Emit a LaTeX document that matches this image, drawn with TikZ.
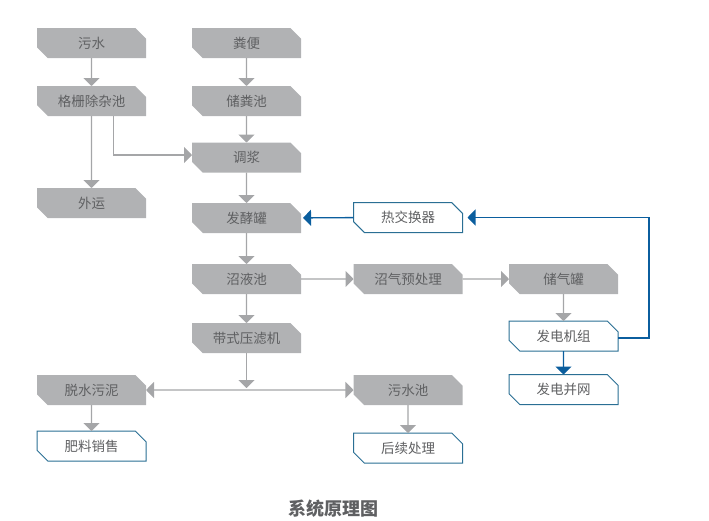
\documentclass[tikz,border=0pt]{standalone}
\usepackage{fontspec}
\setmainfont{Noto Sans CJK SC}
\usetikzlibrary{arrows.meta,shapes.misc}
\definecolor{boxgray}{HTML}{B1B2B4}
\definecolor{linegray}{HTML}{A5A6A8}
\definecolor{textgray}{HTML}{5F6062}
\definecolor{flowblue}{HTML}{0B5E9E}
\definecolor{edgeblue}{HTML}{2A6F94}
\tikzset{
    unit/.style={chamfered rectangle,chamfered rectangle corners={north east,south west},
        chamfered rectangle xsep=7pt,chamfered rectangle ysep=4.5pt,
        minimum width=109pt,minimum height=30pt,inner sep=0pt,outer sep=0pt,
        text=textgray,font=\fontsize{13.5}{16}\selectfont},
    grayunit/.style={unit,fill=boxgray},
    whiteunit/.style={unit,draw=edgeblue,fill=white,line width=1pt},
    grayflow/.style={draw=linegray,line width=1.4pt,-{Triangle[width=16pt,length=8pt]}},
    blueflow/.style={draw=flowblue,line width=1.4pt,-{Triangle[width=16pt,length=8pt]}}
}

\begin{document}
\begin{tikzpicture}[x=1pt,y=-1pt]
    \useasboundingbox (0,0) rectangle (709,520);

    % Left column
    \node[grayunit] (wushui) at (91.5,43) {污水};
    \node[grayunit] (geshan) at (91.5,101) {格栅除杂池};
    \node[grayunit] (waiyun) at (91.5,203) {外运};
    \node[grayunit] (tuoshui) at (91.5,390) {脱水污泥};
    \node[whiteunit] (feiliao) at (91.5,446) {肥料销售};

    % Middle column
    \node[grayunit] (fenbian) at (246.5,43) {粪便};
    \node[grayunit] (chufen) at (246.5,101) {储粪池};
    \node[grayunit] (tiaojiang) at (246.5,157.5) {调浆};
    \node[grayunit] (fajiao) at (246.5,218) {发酵罐};
    \node[grayunit] (zhaoye) at (246.5,279) {沼液池};
    \node[grayunit] (yalv) at (246.5,338) {带式压滤机};

    % Right columns
    \node[whiteunit] (huanre) at (408,217.5) {热交换器};
    \node[grayunit] (yuchuli) at (408,279) {沼气预处理};
    \node[grayunit] (wushuichi) at (408,390) {污水池};
    \node[whiteunit] (houxu) at (408,448) {后续处理};
    \node[grayunit] (chuqi) at (563.5,279) {储气罐};
    \node[whiteunit] (jizu) at (563.5,336) {发电机组};
    \node[whiteunit] (bingwang) at (563.5,389.5) {发电并网};

    % Gray connectors
    \draw[grayflow] (wushui) -- (geshan);
    \draw[grayflow] (geshan) -- (waiyun);
    \draw[grayflow] ([xshift=22pt]geshan.south) |- ([yshift=2.5pt]tiaojiang.west);
    \draw[grayflow] (fenbian) -- (chufen);
    \draw[grayflow] (chufen) -- (tiaojiang);
    \draw[grayflow] (tiaojiang) -- (fajiao);
    \draw[grayflow] (fajiao) -- (zhaoye);
    \draw[grayflow] (zhaoye) -- (yalv);
    \draw[grayflow] (zhaoye) -- (yuchuli);
    \draw[grayflow] (yuchuli) -- (chuqi);
    \draw[grayflow] (chuqi) -- (jizu);
    \draw[grayflow] (tuoshui) -- (feiliao);
    \draw[grayflow] (wushuichi) -- (houxu);

    % Split under the filter press
    \coordinate (fenliu) at (yalv.south |- tuoshui.east);
    \draw[grayflow,shorten >=2pt] (yalv) -- (fenliu);
    \draw[grayflow,{Triangle[width=16pt,length=8pt]}-{Triangle[width=16pt,length=8pt]}] (tuoshui) -- (wushuichi);

    % Blue connectors
    \coordinate (guaijiao) at (649,217.5);
    \draw[blueflow,shorten >=2pt] (huanre) -- (fajiao);
    \draw[blueflow,shorten >=5pt] ([yshift=-2pt]jizu.east) -| (guaijiao) -- (huanre.east);
    \draw[blueflow] (jizu) -- (bingwang);

    % Title
    \node[text=textgray,font=\fontsize{18}{20}\selectfont\bfseries] (tuming) at (333,509) {系统原理图};
\end{tikzpicture}
\end{document}
